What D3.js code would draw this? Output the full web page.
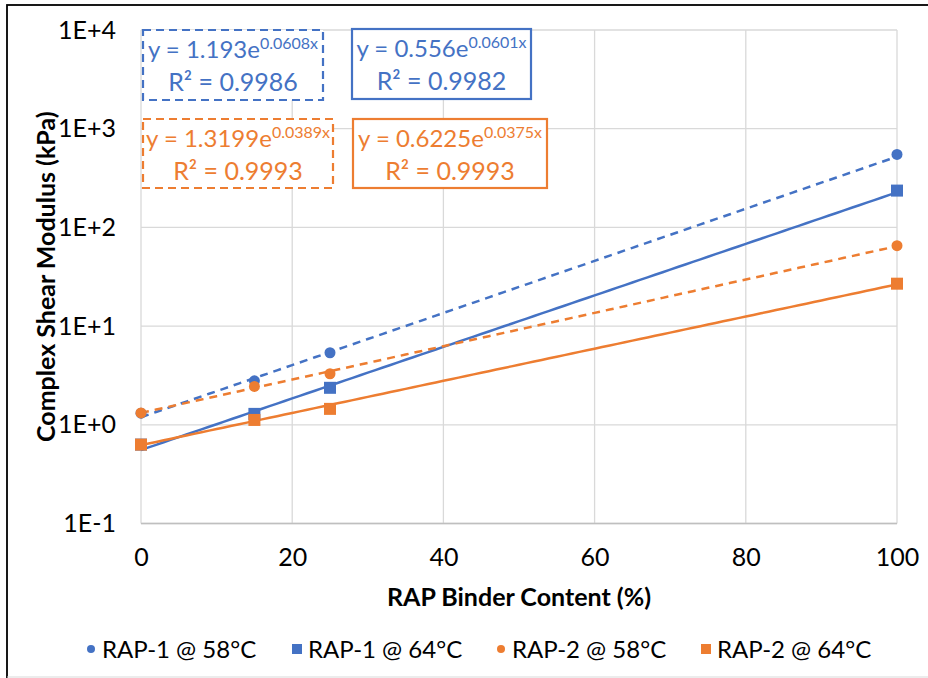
<!DOCTYPE html>
<html><head><meta charset="utf-8">
<script src="https://cdn.jsdelivr.net/npm/d3@7"></script>
<style>
html,body{margin:0;padding:0;background:#fff;}
text{font-family:Lato,"Noto Sans",sans-serif;}
</style></head>
<body><svg id="chart" width="928" height="678"></svg>
<script>
// ---- data ----
const xValues = [0, 15, 25, 100];
const rap1_58 = [1.31, 2.79, 5.37, 548];
const rap1_64 = [0.63, 1.29, 2.37, 236];
const rap2_58 = [1.32, 2.45, 3.29, 65.3];
const rap2_64 = [0.63, 1.12, 1.45, 26.9];
const seriesNames = ["RAP-1 @ 58°C", "RAP-1 @ 64°C", "RAP-2 @ 58°C", "RAP-2 @ 64°C"];
const trendA = [1.193, 0.556, 1.3199, 0.6225];
const trendB = [0.0608, 0.0601, 0.0389, 0.0375];
const trendR2 = ["0.9986", "0.9982", "0.9993", "0.9993"];
const yTicks = [0.1, 1, 10, 100, 1000, 10000];
const yTickLabels = ["1E-1", "1E+0", "1E+1", "1E+2", "1E+3", "1E+4"];
const xTicks = [0, 20, 40, 60, 80, 100];

const blue = "#4472C4", orange = "#ED7D31";
const series = [
  {name: seriesNames[0], values: rap1_58, color: blue, shape: "circle", dash: true},
  {name: seriesNames[1], values: rap1_64, color: blue, shape: "square", dash: false},
  {name: seriesNames[2], values: rap2_58, color: orange, shape: "circle", dash: true},
  {name: seriesNames[3], values: rap2_64, color: orange, shape: "square", dash: false}
];

const svg = d3.select("#chart");
const L = 141, R = 897, T = 30, B = 523.5;
const x = d3.scaleLinear().domain([0, 100]).range([L, R]);
const y = d3.scaleLog().domain([0.1, 10000]).range([B, T]);

// outer border
svg.append("rect").attr("x", 7).attr("y", 5).attr("width", 940).attr("height", 700)
  .attr("fill", "none").attr("stroke", "#000").attr("stroke-width", 1.8);
svg.append("line").attr("x1", 7).attr("x2", 928).attr("y1", 677).attr("y2", 677)
  .attr("stroke", "#d9d9d9").attr("stroke-width", 1);

// gridlines
const grid = svg.append("g");
grid.selectAll(".gy").data(yTicks).join("line")
  .attr("x1", L).attr("x2", R).attr("y1", d => y(d)).attr("y2", d => y(d))
  .attr("stroke", "#d9d9d9").attr("stroke-width", 1.3);
grid.selectAll(".gx").data(xTicks).join("line")
  .attr("y1", T).attr("y2", B).attr("x1", d => x(d)).attr("x2", d => x(d))
  .attr("stroke", "#d9d9d9").attr("stroke-width", 1.3);
svg.append("line").attr("x1", L).attr("x2", R).attr("y1", B).attr("y2", B)
  .attr("stroke", "#bfbfbf").attr("stroke-width", 1.3);

// axes using d3 axes
const yAxis = d3.axisLeft(y).tickValues(yTicks).tickFormat((d, i) => yTickLabels[i]).tickSize(0).tickPadding(25);
const gy = svg.append("g").attr("transform", `translate(${L},0)`).call(yAxis);
gy.select(".domain").remove();
gy.selectAll("text").attr("font-size", 25).attr("fill", "#000").style("font-family", "Lato");

const xAxis = d3.axisBottom(x).tickValues(xTicks).tickFormat(d3.format("d")).tickSize(0).tickPadding(25);
const gx = svg.append("g").attr("transform", `translate(0,${B})`).call(xAxis);
gx.select(".domain").remove();
gx.selectAll("text").attr("font-size", 25).attr("fill", "#000").style("font-family", "Lato");

// axis titles
svg.append("text").attr("x", 519).attr("y", 606).attr("text-anchor", "middle")
  .attr("font-size", 25).attr("font-weight", "bold").text("RAP Binder Content (%)");
svg.append("text").attr("transform", `translate(55,${(T + B) / 2}) rotate(-90)`)
  .attr("text-anchor", "middle").attr("font-size", 25).attr("font-weight", "bold")
  .text("Complex Shear Modulus (kPa)");

// trendlines
const trendX = d3.range(0, 100.5, 1);
const line = d3.line().x(d => x(d[0])).y(d => y(d[1]));
series.forEach((s, i) => {
  const pts = trendX.map(t => [t, trendA[i] * Math.exp(trendB[i] * t)]);
  svg.append("path").attr("d", line(pts)).attr("fill", "none")
    .attr("stroke", s.color).attr("stroke-width", 2.5)
    .attr("stroke-dasharray", s.dash ? "8,6" : null);
});

// points
series.forEach(s => {
  const g = svg.append("g");
  const pts = xValues.map((xv, j) => [xv, s.values[j]]);
  if (s.shape === "circle") {
    g.selectAll("circle").data(pts).join("circle")
      .attr("cx", d => x(d[0])).attr("cy", d => y(d[1])).attr("r", 5.5).attr("fill", s.color);
  } else {
    g.selectAll("rect").data(pts).join("rect")
      .attr("x", d => x(d[0]) - 6).attr("y", d => y(d[1]) - 6)
      .attr("width", 12).attr("height", 12).attr("fill", s.color);
  }
});

// equation boxes
const boxes = [
  {x0: 143, x1: 323, y0: 30, y1: 100},
  {x0: 352, x1: 531, y0: 29, y1: 99},
  {x0: 143, x1: 333, y0: 119, y1: 188},
  {x0: 353, x1: 547, y0: 119, y1: 188}
];
series.forEach((s, i) => {
  const b = boxes[i];
  svg.append("rect").attr("x", b.x0).attr("y", b.y0).attr("width", b.x1 - b.x0).attr("height", b.y1 - b.y0)
    .attr("fill", "#fff").attr("stroke", s.color).attr("stroke-width", 2.2)
    .attr("stroke-dasharray", s.dash ? "8,5" : null);
  const cx = (b.x0 + b.x1) / 2;
  const t1 = svg.append("text").attr("x", cx).attr("y", b.y0 + 28).attr("text-anchor", "middle")
    .attr("font-size", 24).attr("fill", s.color);
  t1.append("tspan").text("y = " + trendA[i] + "e");
  t1.append("tspan").attr("dy", -9).attr("font-size", 16).text(trendB[i].toFixed(4) + "x");
  svg.append("text").attr("x", cx).attr("y", b.y0 + 61).attr("text-anchor", "middle")
    .attr("font-size", 25).attr("fill", s.color).text("R² = " + trendR2[i]);
});

// legend
const legendX = [91, 297, 501, 706];
const lg = svg.append("g");
series.forEach((s, i) => {
  const lx = legendX[i], ly = 649;
  if (s.shape === "circle") lg.append("circle").attr("cx", lx).attr("cy", ly).attr("r", 4).attr("fill", s.color);
  else lg.append("rect").attr("x", lx - 5).attr("y", ly - 5).attr("width", 10).attr("height", 10).attr("fill", s.color);
  lg.append("text").attr("x", lx + 11).attr("y", ly + 9).attr("font-size", 24).attr("fill", "#000").text(s.name);
});
</script></body></html>
